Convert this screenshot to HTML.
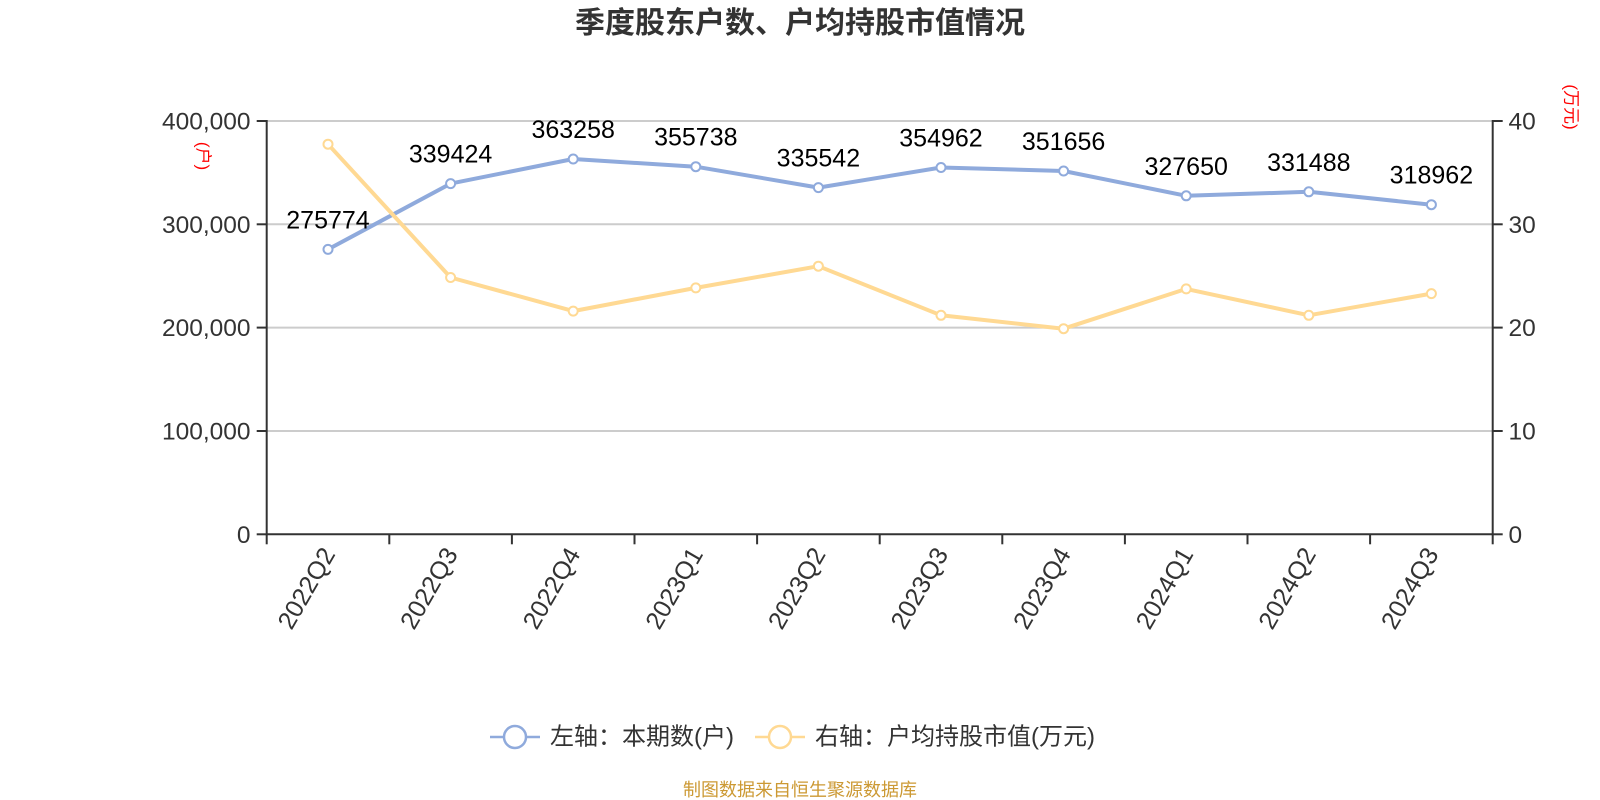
<!DOCTYPE html>
<html>
<head>
<meta charset="utf-8">
<style>
  html,body{margin:0;padding:0;background:#fff;}
  body{width:1600px;height:800px;overflow:hidden;}
  svg{display:block;font-family:"Liberation Sans","Noto Sans CJK SC",sans-serif;}
</style>
</head>
<body>
<svg width="1600" height="800" viewBox="0 0 1600 800" xmlns="http://www.w3.org/2000/svg">
  <rect width="1600" height="800" fill="#fff"/>
  <!-- Title -->
  <text x="800" y="33" text-anchor="middle" font-size="30" font-weight="bold" fill="#333" font-family="'Liberation Sans','Noto Sans CJK SC',sans-serif">季度股东户数、户均持股市值情况</text>

  <!-- Grid lines -->
  <g stroke="#cccccc" stroke-width="2">
    <line x1="266.7" y1="121" x2="1492.7" y2="121"/>
    <line x1="266.7" y1="224.3" x2="1492.7" y2="224.3"/>
    <line x1="266.7" y1="327.6" x2="1492.7" y2="327.6"/>
    <line x1="266.7" y1="431" x2="1492.7" y2="431"/>
  </g>

  <!-- Axes -->
  <g stroke="#333" stroke-width="2">
    <line x1="266.7" y1="120" x2="266.7" y2="535.3"/>
    <line x1="1492.7" y1="120" x2="1492.7" y2="535.3"/>
    <line x1="266.7" y1="534.3" x2="1492.7" y2="534.3"/>
    <line x1="256.7" y1="121" x2="266.7" y2="121"/>
    <line x1="256.7" y1="224.3" x2="266.7" y2="224.3"/>
    <line x1="256.7" y1="327.6" x2="266.7" y2="327.6"/>
    <line x1="256.7" y1="431" x2="266.7" y2="431"/>
    <line x1="256.7" y1="534.3" x2="266.7" y2="534.3"/>
    <line x1="1492.7" y1="121" x2="1502.7" y2="121"/>
    <line x1="1492.7" y1="224.3" x2="1502.7" y2="224.3"/>
    <line x1="1492.7" y1="327.6" x2="1502.7" y2="327.6"/>
    <line x1="1492.7" y1="431" x2="1502.7" y2="431"/>
    <line x1="1492.7" y1="534.3" x2="1502.7" y2="534.3"/>
    <line x1="266.7" y1="534.3" x2="266.7" y2="544.3"/>
    <line x1="389.3" y1="534.3" x2="389.3" y2="544.3"/>
    <line x1="511.9" y1="534.3" x2="511.9" y2="544.3"/>
    <line x1="634.5" y1="534.3" x2="634.5" y2="544.3"/>
    <line x1="757.1" y1="534.3" x2="757.1" y2="544.3"/>
    <line x1="879.7" y1="534.3" x2="879.7" y2="544.3"/>
    <line x1="1002.3" y1="534.3" x2="1002.3" y2="544.3"/>
    <line x1="1124.9" y1="534.3" x2="1124.9" y2="544.3"/>
    <line x1="1247.5" y1="534.3" x2="1247.5" y2="544.3"/>
    <line x1="1370.1" y1="534.3" x2="1370.1" y2="544.3"/>
    <line x1="1492.7" y1="534.3" x2="1492.7" y2="544.3"/>
  </g>

  <!-- Left axis labels -->
  <g font-size="24.5" fill="#333" text-anchor="end">
    <text x="250.5" y="129.5">400,000</text>
    <text x="250.5" y="232.8">300,000</text>
    <text x="250.5" y="336.1">200,000</text>
    <text x="250.5" y="439.5">100,000</text>
    <text x="250.5" y="542.8">0</text>
  </g>
  <!-- Right axis labels -->
  <g font-size="24.5" fill="#333" text-anchor="start">
    <text x="1508.5" y="129.5">40</text>
    <text x="1508.5" y="232.8">30</text>
    <text x="1508.5" y="336.1">20</text>
    <text x="1508.5" y="439.5">10</text>
    <text x="1508.5" y="542.8">0</text>
  </g>

  <!-- Axis names -->
  <text transform="translate(203,156) rotate(90)" text-anchor="middle" dominant-baseline="central" font-size="17" fill="#ff0000">(户)</text>
  <text transform="translate(1571,107) rotate(90)" text-anchor="middle" dominant-baseline="central" font-size="17" fill="#ff0000">(万元)</text>

  <!-- X axis labels -->
  <g font-size="25" fill="#333" text-anchor="end" dominant-baseline="central">
    <text transform="translate(329,550) rotate(-60)">2022Q2</text>
    <text transform="translate(451.6,550) rotate(-60)">2022Q3</text>
    <text transform="translate(574.2,550) rotate(-60)">2022Q4</text>
    <text transform="translate(696.8,550) rotate(-60)">2023Q1</text>
    <text transform="translate(819.4,550) rotate(-60)">2023Q2</text>
    <text transform="translate(942,550) rotate(-60)">2023Q3</text>
    <text transform="translate(1064.6,550) rotate(-60)">2023Q4</text>
    <text transform="translate(1187.2,550) rotate(-60)">2024Q1</text>
    <text transform="translate(1309.8,550) rotate(-60)">2024Q2</text>
    <text transform="translate(1432.4,550) rotate(-60)">2024Q3</text>
  </g>

  <!-- Blue series -->
  <polyline fill="none" stroke="#8faadc" stroke-width="4" stroke-linejoin="round"
    points="328,249.4 450.6,183.6 573.2,159 695.8,166.7 818.4,187.6 941,167.5 1063.6,171 1186.2,195.8 1308.8,191.8 1431.4,204.7"/>
  <g fill="#fff" stroke="#8faadc" stroke-width="2">
    <circle cx="328" cy="249.4" r="4.5"/>
    <circle cx="450.6" cy="183.6" r="4.5"/>
    <circle cx="573.2" cy="159" r="4.5"/>
    <circle cx="695.8" cy="166.7" r="4.5"/>
    <circle cx="818.4" cy="187.6" r="4.5"/>
    <circle cx="941" cy="167.5" r="4.5"/>
    <circle cx="1063.6" cy="171" r="4.5"/>
    <circle cx="1186.2" cy="195.8" r="4.5"/>
    <circle cx="1308.8" cy="191.8" r="4.5"/>
    <circle cx="1431.4" cy="204.7" r="4.5"/>
  </g>

  <!-- Yellow series -->
  <polyline fill="none" stroke="#ffd993" stroke-width="4" stroke-linejoin="round"
    points="328,144.2 450.6,277.5 573.2,311.1 695.8,287.9 818.4,266.2 941,315.3 1063.6,328.7 1186.2,288.9 1308.8,315.3 1431.4,293.6"/>
  <g fill="#fff" stroke="#ffd993" stroke-width="2">
    <circle cx="328" cy="144.2" r="4.5"/>
    <circle cx="450.6" cy="277.5" r="4.5"/>
    <circle cx="573.2" cy="311.1" r="4.5"/>
    <circle cx="695.8" cy="287.9" r="4.5"/>
    <circle cx="818.4" cy="266.2" r="4.5"/>
    <circle cx="941" cy="315.3" r="4.5"/>
    <circle cx="1063.6" cy="328.7" r="4.5"/>
    <circle cx="1186.2" cy="288.9" r="4.5"/>
    <circle cx="1308.8" cy="315.3" r="4.5"/>
    <circle cx="1431.4" cy="293.6" r="4.5"/>
  </g>

  <!-- Data labels -->
  <g font-size="25" fill="#000" text-anchor="middle">
    <text x="328" y="228.4">275774</text>
    <text x="450.6" y="162.6">339424</text>
    <text x="573.2" y="138">363258</text>
    <text x="695.8" y="145.7">355738</text>
    <text x="818.4" y="166.6">335542</text>
    <text x="941" y="146.5">354962</text>
    <text x="1063.6" y="150">351656</text>
    <text x="1186.2" y="174.8">327650</text>
    <text x="1308.8" y="170.8">331488</text>
    <text x="1431.4" y="183.7">318962</text>
  </g>

  <!-- Legend -->
  <line x1="490" y1="737" x2="540" y2="737" stroke="#8faadc" stroke-width="2.5"/>
  <circle cx="515" cy="737" r="11" fill="#fff" stroke="#8faadc" stroke-width="2.5"/>
  <text x="550" y="737" dominant-baseline="central" font-size="24" fill="#333">左轴：本期数(户)</text>
  <line x1="755" y1="737" x2="805" y2="737" stroke="#ffd993" stroke-width="2.5"/>
  <circle cx="780" cy="737" r="11" fill="#fff" stroke="#ffd993" stroke-width="2.5"/>
  <text x="815" y="737" dominant-baseline="central" font-size="24" fill="#333">右轴：户均持股市值(万元)</text>

  <!-- Source -->
  <text x="800" y="790" text-anchor="middle" dominant-baseline="central" font-size="18" fill="#cc9933">制图数据来自恒生聚源数据库</text>
</svg>
</body>
</html>
